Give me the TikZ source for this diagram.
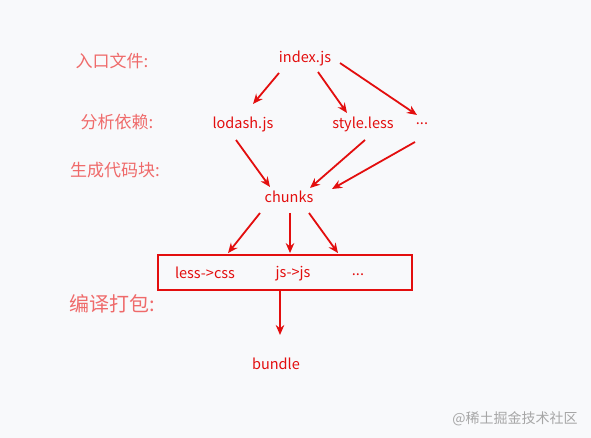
\documentclass[tikz,border=0pt]{standalone}
\usepackage{fontspec}
\setmainfont{Noto Sans CJK SC}
\usepackage{tikz}
\usetikzlibrary{arrows.meta,positioning,calc}
\definecolor{flowred}{HTML}{E30E0E}
\definecolor{stagered}{HTML}{EF6A6A}
\definecolor{bggray}{HTML}{F8F9FB}
\tikzset{
	x=1pt, y=-1pt,
	flow/.style={-{Stealth[length=10pt,width=8.5pt]}, draw=flowred, line width=1.8pt}, % red arrows
	file/.style={text=flowred, inner sep=0pt, font=\fontsize{14.5}{16}\selectfont},
	stage/.style={text=stagered, inner sep=0pt, font=\fontsize{17}{19}\selectfont},
}
\begin{document}
\begin{tikzpicture}
	\fill[bggray] (0,0) rectangle (591,438);
	\useasboundingbox (0,0) rectangle (591,438);

	% stages
	\node[stage] (entry) at (112,61) {入口文件:};
	\node[stage] (deps) at (117,122) {分析依赖:};
	\node[stage] (gen) at (115,170) {生成代码块:};
	\node[stage, font=\fontsize{20}{22}\selectfont] (pack) at (112,304) {编译打包:};

	% files
	\node[file] (index) at (305,58) {index.js};
	\node[file] (lodash) at (243,124) {lodash.js};
	\node[file] (style) at (363,124) {style.less};
	\node[file] (more) at (422,124) {...};
	\node[file] (chunks) at (289,197) {chunks};
	\node[draw=flowred, line width=1.8pt, minimum width=254pt, minimum height=35pt] (box) at (285,272.5) {};
	\node[file] (lesscss) at (205,273) {less->css};
	\node[file] (jsjs) at (293,274) {js->js};
	\node[file] (etc) at (358,275) {...};
	\node[file] (bundle) at (276,364) {bundle};

	\draw[flow] ([shift={(-26,15)}]index.center) -- ([shift={(10,-20)}]lodash.center);
	\draw[flow] ([shift={(13,14)}]index.center) -- ([shift={(-16,-11)}]style.center);
	\draw[flow] ([shift={(35,5)}]index.center) -- ([shift={(-5,-9)}]more.center);
	\draw[flow] ([shift={(-7,16)}]lodash.center) -- ([shift={(-19,-10)}]chunks.center);
	\draw[flow] ([shift={(2,16)}]style.center) -- ([shift={(21,-9)}]chunks.center);
	\draw[flow] ([shift={(-7,18)}]more.center) -- ([shift={(43,-8)}]chunks.center);
	\draw[flow] ([shift={(-29,16)}]chunks.center) -- ([xshift=-57pt,yshift=1pt]box.north);
	\draw[flow] ([shift={(1,16)}]chunks.center) -- ([xshift=5pt,yshift=1pt]box.north);
	\draw[flow] ([shift={(20,16)}]chunks.center) -- ([xshift=53pt,yshift=1pt]box.north);
	\draw[flow] ([xshift=-5pt]box.south) -- ([shift={(4,-29)}]bundle.center);

	\node[text=black!35, inner sep=0pt, font=\fontsize{14}{16}\selectfont] (mark) at (515,419) {@稀土掘金技术社区};
\end{tikzpicture}
\end{document}
